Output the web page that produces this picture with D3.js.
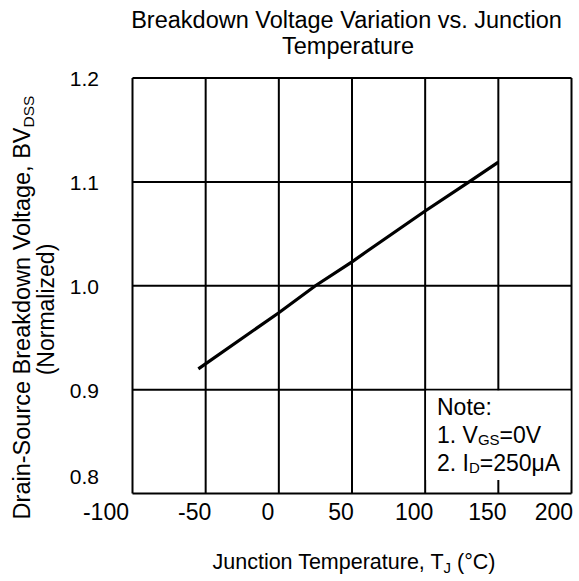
<!DOCTYPE html>
<html><head><meta charset="utf-8">
<script src="https://cdn.jsdelivr.net/npm/d3@7"></script>
<style>body{margin:0;background:#fff}svg{display:block}text{font-family:"Liberation Sans",Arial,sans-serif;fill:#000}</style>
</head><body>
<script>
const tempC = [-55, 0, 25, 50, 60, 100, 130, 150];
const bvNorm = [0.920, 0.974, 1.000, 1.023, 1.033, 1.072, 1.100, 1.119];
const xTicks = [-100, -50, 0, 50, 100, 150, 200];
const yTicks = [0.8, 0.9, 1.0, 1.1, 1.2];
const yTickLabels = ["0.8", "0.9", "1.0", "1.1", "1.2"];

const W = 579, H = 581;
const svg = d3.select("body").append("svg").attr("width", W).attr("height", H);
const x = d3.scaleLinear().domain([-100, 200]).range([132.5, 571.5]);
const y = d3.scaleLinear().domain([0.8, 1.2]).range([493.5, 78]);

// grid
const g = svg.append("g");
g.selectAll("line.v").data(xTicks).join("line")
  .attr("x1", d => x(d)).attr("x2", d => x(d)).attr("y1", y(0.8)).attr("y2", y(1.2))
  .attr("stroke", "#000").attr("stroke-width", 2);
g.selectAll("line.h").data(yTicks).join("line")
  .attr("y1", d => y(d)).attr("y2", d => y(d)).attr("x1", x(-100)).attr("x2", x(200))
  .attr("stroke", "#000").attr("stroke-width", 2);

// note box (white area masking grid)
svg.append("rect").attr("x", x(100) + 1).attr("y", y(0.9) + 1)
  .attr("width", x(200) - x(100) - 2).attr("height", 480 - y(0.9) - 1).attr("fill", "#fff");

// curve
svg.append("path").datum(tempC.map((t, i) => [t, bvNorm[i]]))
  .attr("d", d3.line().x(d => x(d[0])).y(d => y(d[1])))
  .attr("fill", "none").attr("stroke", "#000").attr("stroke-width", 3.2);

// y tick labels
svg.selectAll("text.yt").data(yTicks).join("text")
  .attr("x", 99).attr("y", d => d === 0.8 ? 484 : y(d) + 8).attr("text-anchor", "end")
  .attr("font-size", 21).text((d, i) => yTickLabels[i]);

// x tick labels
svg.selectAll("text.xt").data(xTicks).join("text")
  .attr("x", d => d === -100 ? x(d) - 3.5 : d === 200 ? x(d) + 1.5 : x(d) - 11)
  .attr("text-anchor", d => (d === -100 || d === 200) ? "end" : "middle")
  .attr("y", 520).attr("font-size", 23).text(d => d);

// title
const title = svg.append("text").attr("text-anchor", "middle").attr("font-size", 23.5);
title.append("tspan").attr("x", 346.5).attr("y", 28).text("Breakdown Voltage Variation vs. Junction");
title.append("tspan").attr("x", 348).attr("y", 54).text("Temperature");

// x axis label
const xl = svg.append("text").attr("x", 354).attr("y", 569).attr("text-anchor", "middle").attr("font-size", 21.5);
xl.append("tspan").text("Junction Temperature, T");
xl.append("tspan").attr("font-size", 15).attr("dy", 4).text("J");
xl.append("tspan").attr("dy", -4).text(" (°C)");

// y axis label
const yl = svg.append("text").attr("transform", "translate(30,307.5) rotate(-90)").attr("text-anchor", "middle").attr("font-size", 23.5);
yl.append("tspan").text("Drain-Source Breakdown Voltage, BV");
yl.append("tspan").attr("font-size", 15.5).attr("dy", 4).text("DSS");
svg.append("text").attr("transform", "translate(54,309.5) rotate(-90)").attr("text-anchor", "middle")
  .attr("font-size", 23).text("(Normalized)");

// note
const nx = 437;
svg.append("text").attr("x", nx).attr("y", 415).attr("font-size", 23).text("Note:");
const n1 = svg.append("text").attr("x", nx).attr("y", 443).attr("font-size", 23);
n1.append("tspan").text("1. V");
n1.append("tspan").attr("font-size", 15).attr("dy", 2).text("GS");
n1.append("tspan").attr("dy", -2).text("=0V");
const n2 = svg.append("text").attr("x", nx).attr("y", 471).attr("font-size", 23);
n2.append("tspan").text("2. I");
n2.append("tspan").attr("font-size", 15).attr("dy", 2).text("D");
n2.append("tspan").attr("dy", -2).text("=250μA");
</script>
</body></html>
